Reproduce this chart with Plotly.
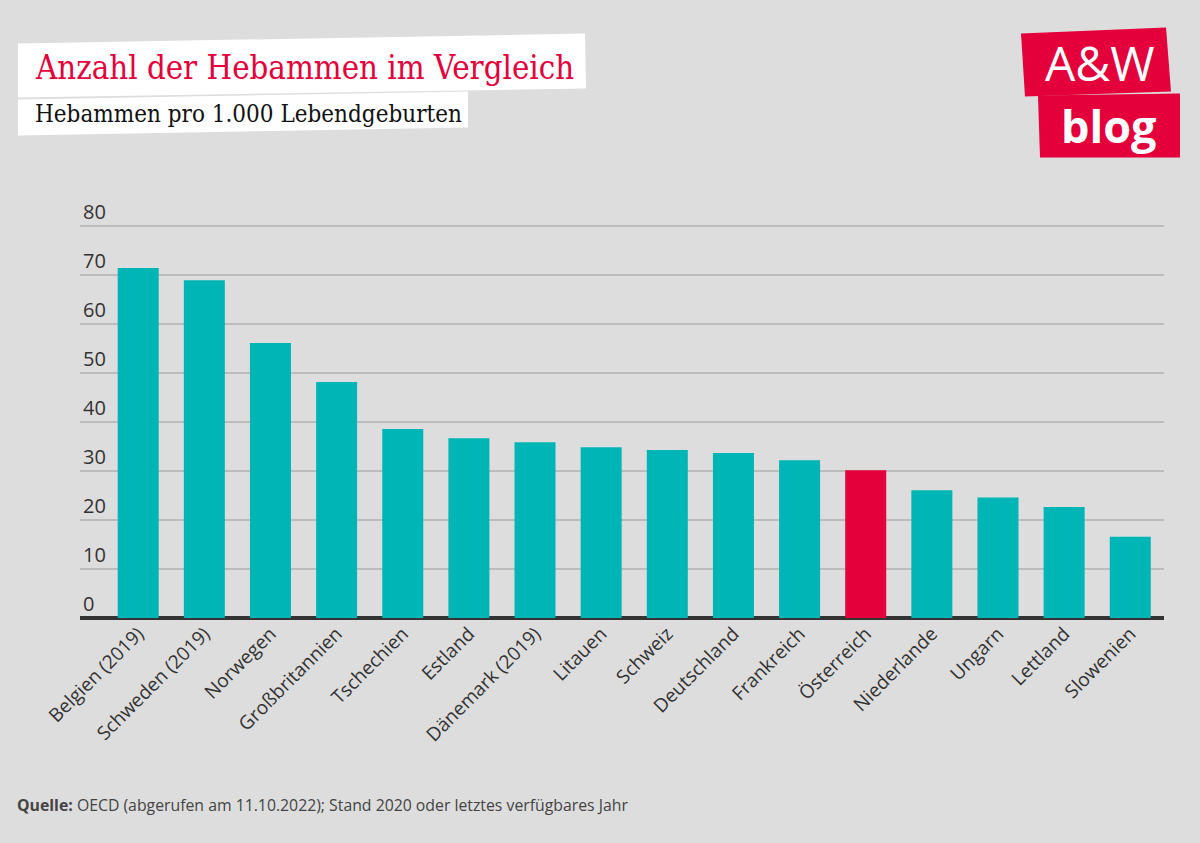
import plotly.graph_objects as go

countries = ["Belgien (2019)", "Schweden (2019)", "Norwegen", "Großbritannien", "Tschechien",
             "Estland", "Dänemark (2019)", "Litauen", "Schweiz", "Deutschland", "Frankreich",
             "Österreich", "Niederlande", "Ungarn", "Lettland", "Slowenien"]
values = [71.5, 69.0, 56.2, 48.2, 38.6, 36.7, 35.9, 34.9, 34.3, 33.7, 32.2,
          30.2, 26.1, 24.6, 22.7, 16.6]
highlight = "Österreich"
y_ticks = [0, 10, 20, 30, 40, 50, 60, 70, 80]

TEAL = "#00b5b5"
RED = "#e4003b"
BG = "#dddddd"

W, H = 1200, 843
YMAX = 86
L, R, B = 80, 36, 225
PH = 392 * YMAX / 80.0
T = H - B - PH
PW = W - L - R

def px(x):
    return (x - L) / PW

def py(y):
    return (H - B - y) / PH

def poly(points):
    return "M " + " L ".join(f"{px(x):.5f},{py(y):.5f}" for x, y in points) + " Z"

colors = [RED if c == highlight else TEAL for c in countries]

fig = go.Figure(go.Bar(
    x=countries, y=values, marker=dict(color=colors, line=dict(width=0)),
    hoverinfo="x+y"))

shapes = [
    dict(type="path", xref="paper", yref="paper", path=poly([(18, 43), (585, 33), (586, 88), (18, 97)]),
         fillcolor="white", line=dict(width=0), layer="above"),
    dict(type="path", xref="paper", yref="paper", path=poly([(18, 99), (468, 91), (468, 127), (18, 135)]),
         fillcolor="white", line=dict(width=0), layer="above"),
    dict(type="path", xref="paper", yref="paper", path=poly([(1021, 33), (1166, 27), (1171, 91), (1025, 96)]),
         fillcolor=RED, line=dict(width=0), layer="above"),
    dict(type="path", xref="paper", yref="paper", path=poly([(1038, 95), (1180, 93), (1180, 157), (1040, 157)]),
         fillcolor=RED, line=dict(width=0), layer="above"),
]

serif = "DejaVu Serif Condensed, DejaVu Serif, serif"
annotations = [
    dict(text="Anzahl der Hebammen im Vergleich", x=px(33), y=py(67), xref="paper", yref="paper",
         xanchor="left", yanchor="middle", showarrow=False,
         font=dict(family=serif, size=32.7, color=RED)),
    dict(text="Hebammen pro 1.000 Lebendgeburten", x=px(33), y=py(114), xref="paper", yref="paper",
         xanchor="left", yanchor="middle", showarrow=False,
         font=dict(family=serif, size=24, color="#111111")),
    dict(text="A&W", x=px(1100), y=py(62), xref="paper", yref="paper",
         xanchor="center", yanchor="middle", showarrow=False,
         font=dict(family="Open Sans, sans-serif", size=48, color="white")),
    dict(text="<b>blog</b>", x=px(1109), y=py(125), xref="paper", yref="paper",
         xanchor="center", yanchor="middle", showarrow=False,
         font=dict(family="Open Sans, sans-serif", size=45, color="white")),
    dict(text="<b>Quelle:</b> OECD (abgerufen am 11.10.2022); Stand 2020 oder letztes verfügbares Jahr",
         x=px(15), y=py(805), xref="paper", yref="paper",
         xanchor="left", yanchor="middle", showarrow=False,
         font=dict(family="Open Sans, sans-serif", size=15.8, color="#444444")),
]

fig.update_layout(
    width=W, height=H,
    margin=dict(l=L, r=R, t=T, b=B, autoexpand=False),
    paper_bgcolor=BG, plot_bgcolor=BG,
    showlegend=False,
    bargap=0.38,
    shapes=shapes,
    annotations=annotations,
    font=dict(family="Open Sans, sans-serif", color="#333333"),
    xaxis=dict(
        type="category", range=[-0.88, 15.51], tickangle=-45,
        tickfont=dict(size=19, color="#333333"), showgrid=False, showline=False,
        ticks="", fixedrange=True),
    yaxis=dict(
        range=[0, YMAX], tickvals=y_ticks, ticklabelposition="inside top",
        tickfont=dict(size=20, color="#333333"), showgrid=True,
        gridcolor="#bcbcbc", gridwidth=1.5, zeroline=True, zerolinecolor="#333333",
        zerolinewidth=3.5, showline=False, ticks="", fixedrange=True),
)

fig.write_html("out.html", config={"displayModeBar": False},
               post_script="document.body.style.margin='0';")
